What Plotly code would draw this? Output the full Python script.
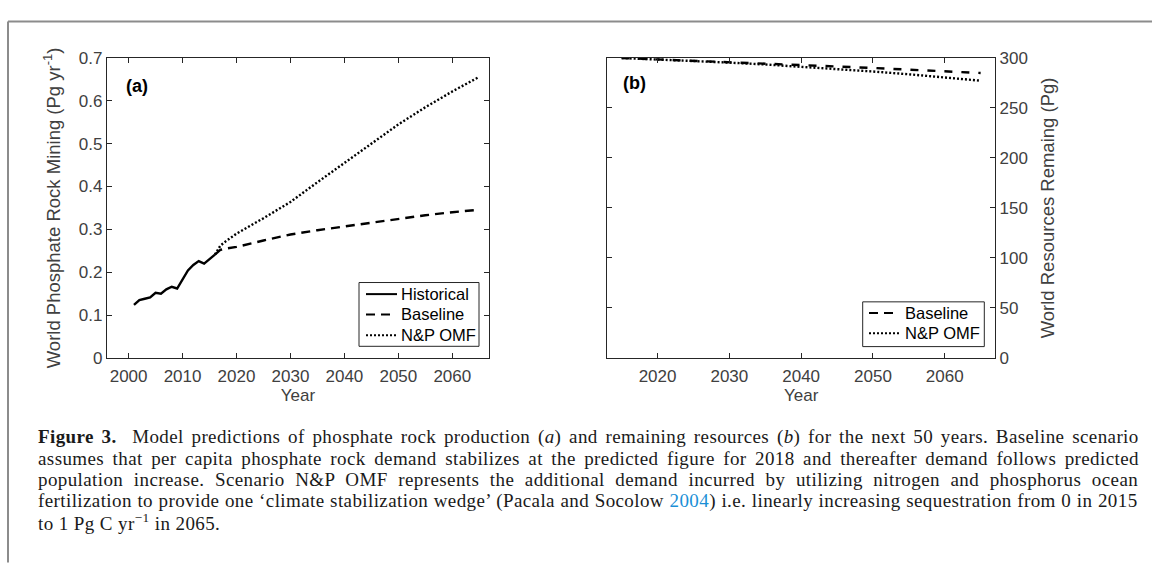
import plotly.graph_objects as go

# ---------------- data ----------------
hist_years = list(range(2001, 2017))
hist_vals = [0.124, 0.135, 0.138, 0.141, 0.152, 0.150, 0.160, 0.166,
             0.162, 0.184, 0.204, 0.217, 0.226, 0.220, 0.230, 0.241]

proj_years = [2016, 2017, 2018, 2020, 2025, 2030, 2035, 2040, 2045, 2050, 2055, 2060, 2065]
base_vals = [0.241, 0.252, 0.255, 0.259, 0.274, 0.288, 0.298, 0.307, 0.316, 0.325, 0.333, 0.340, 0.346]
omf_vals = [0.241, 0.262, 0.272, 0.290, 0.326, 0.364, 0.410, 0.455, 0.500, 0.545, 0.585, 0.622, 0.656]

res_years = [2015, 2020, 2025, 2030, 2035, 2040, 2045, 2050, 2055, 2060, 2065]
res_base = [300.0, 298.7, 297.4, 296.0, 294.5, 293.0, 291.5, 290.0, 288.3, 286.6, 285.0]
res_omf = [300.0, 298.6, 297.1, 295.4, 293.5, 291.4, 289.0, 286.5, 283.7, 280.7, 277.3]

xticks_a = [2000, 2010, 2020, 2030, 2040, 2050, 2060]
xticks_b = [2020, 2030, 2040, 2050, 2060]
yticks_a = [0, 0.1, 0.2, 0.3, 0.4, 0.5, 0.6, 0.7]
yticks_b = [0, 50, 100, 150, 200, 250, 300]

legend_a = ["Historical", "Baseline", "N&P OMF"]
legend_b = ["Baseline", "N&P OMF"]

caption_lines = [
    [("Figure 3.", "b"), ("  Model predictions of phosphate rock production (", "n"), ("a", "i"),
     (") and remaining resources (", "n"), ("b", "i"),
     (") for the next 50 years. Baseline scenario", "n")],
    [("assumes that per capita phosphate rock demand stabilizes at the predicted figure for 2018 and thereafter demand follows predicted", "n")],
    [("population increase. Scenario N&P OMF represents the additional demand incurred by utilizing nitrogen and phosphorus ocean", "n")],
    [("fertilization to provide one \u2018climate stabilization wedge\u2019 (Pacala and Socolow ", "n"),
     ("2004", "link"), (") i.e. linearly increasing sequestration from 0 in 2015", "n")],
    [("to 1 Pg C yr", "n"), ("\u22121", "sup"), (" in 2065.", "n")],
]

# ---------------- page geometry ----------------
FW, FH = 1152, 567


def px(x):
    return x / FW


def py(y):
    return 1 - y / FH


AX = "#262626"
TXT = "#404040"
FONT = "Liberation Sans"
LW = 2.4
DASH_A = "9px,6px"
DASH_B = "8px,9px"
DOT = "2px,2px"

fig = go.Figure()

fig.add_trace(go.Scatter(x=hist_years, y=hist_vals, mode="lines", name=legend_a[0],
                         line=dict(color="black", width=LW), xaxis="x", yaxis="y"))
fig.add_trace(go.Scatter(x=proj_years, y=base_vals, mode="lines", name=legend_a[1],
                         line=dict(color="black", width=LW, dash=DASH_A), xaxis="x", yaxis="y"))
fig.add_trace(go.Scatter(x=proj_years, y=omf_vals, mode="lines", name=legend_a[2],
                         line=dict(color="black", width=LW, dash=DOT), xaxis="x", yaxis="y"))
fig.add_trace(go.Scatter(x=res_years, y=res_base, mode="lines", name=legend_b[0],
                         line=dict(color="black", width=LW, dash=DASH_B), xaxis="x2", yaxis="y2"))
fig.add_trace(go.Scatter(x=res_years, y=res_omf, mode="lines", name=legend_b[1],
                         line=dict(color="black", width=LW, dash=DOT), xaxis="x2", yaxis="y2"))

ax_common = dict(showline=True, linecolor=AX, linewidth=1.2, mirror="ticks",
                 ticks="inside", ticklen=5, tickcolor=AX, tickwidth=1,
                 showgrid=False, zeroline=False,
                 tickfont=dict(family=FONT, size=17, color=TXT))

ydom = [py(361), py(50.7)]

fig.update_layout(
    width=FW, height=FH, autosize=False,
    margin=dict(l=0, r=0, t=0, b=0),
    paper_bgcolor="white", plot_bgcolor="white",
    font=dict(family=FONT, color=TXT),
    showlegend=False,
    xaxis=dict(domain=[px(107), px(489)], range=[1996, 2066.8], tickvals=xticks_a, anchor="y",
               ticklabelstandoff=3,
               title=dict(text="Year", font=dict(family=FONT, size=17, color=TXT), standoff=3),
               **ax_common),
    yaxis=dict(domain=ydom, range=[0, 0.7], tickvals=yticks_a, anchor="x",
               title=dict(text="World Phosphate Rock Mining (Pg yr<sup>-1</sup>)",
                          font=dict(family=FONT, size=18.5, color=TXT), standoff=13),
               **ax_common),
    xaxis2=dict(domain=[px(607.3), px(995)], range=[2013, 2067], tickvals=xticks_b, anchor="y2",
                ticklabelstandoff=3,
                title=dict(text="Year", font=dict(family=FONT, size=17, color=TXT), standoff=3),
                **ax_common),
    yaxis2=dict(domain=ydom, range=[0, 300], tickvals=yticks_b, anchor="x2", side="right",
                title=dict(text="World Resources Remaing (Pg)",
                           font=dict(family=FONT, size=18.5, color=TXT), standoff=14),
                **ax_common),
)

# panel labels
fig.add_annotation(text="<b>(a)</b>", xref="paper", yref="paper", x=px(124), y=py(80),
                   xanchor="left", yanchor="middle", showarrow=False,
                   font=dict(family=FONT, size=18, color="black"))
fig.add_annotation(text="<b>(b)</b>", xref="paper", yref="paper", x=px(621), y=py(77),
                   xanchor="left", yanchor="middle", showarrow=False,
                   font=dict(family=FONT, size=18, color="black"))


# ---------------- legends (boxes drawn like the MATLAB ones) ----------------
def legend_box(x0, y0, x1, y1, entries):
    fig.add_shape(type="rect", xref="paper", yref="paper", x0=px(x0), x1=px(x1),
                  y0=py(y1), y1=py(y0), line=dict(color=AX, width=1), fillcolor="white",
                  layer="above")
    for label, yy, sx0, sx1, dash, tx in entries:
        fig.add_shape(type="line", xref="paper", yref="paper", x0=px(sx0), x1=px(sx1),
                      y0=py(yy), y1=py(yy), line=dict(color="black", width=2, dash=dash),
                      layer="above")
        fig.add_annotation(text=label.replace("&", "&amp;"), xref="paper", yref="paper",
                           x=px(tx), y=py(yy), xanchor="left", yanchor="middle",
                           showarrow=False, font=dict(family=FONT, size=16.5, color="black"))


legend_box(359, 283, 479, 349, [
    (legend_a[0], 295, 366, 397, "solid", 399),
    (legend_a[1], 316, 366, 391, DASH_A, 399),
    (legend_a[2], 337.5, 366, 397, DOT, 399),
])
legend_box(862.7, 303, 984.3, 349.3, [
    (legend_b[0], 314.5, 869, 894, DASH_A, 903),
    (legend_b[1], 335.5, 869, 900, DOT, 903),
])

# ---------------- caption (justified with word spacing) ----------------
TIMES = {' ': 250, 'a': 444, 'b': 500, 'c': 444, 'd': 500, 'e': 444, 'f': 333, 'g': 500,
         'h': 500, 'i': 278, 'j': 278, 'k': 500, 'l': 278, 'm': 778, 'n': 500, 'o': 500,
         'p': 500, 'q': 500, 'r': 333, 's': 389, 't': 278, 'u': 500, 'v': 500, 'w': 722,
         'x': 500, 'y': 500, 'z': 444, 'A': 722, 'B': 667, 'C': 667, 'D': 722, 'E': 611,
         'F': 556, 'G': 722, 'H': 722, 'I': 333, 'J': 389, 'K': 722, 'L': 611, 'M': 889,
         'N': 722, 'O': 722, 'P': 556, 'Q': 722, 'R': 667, 'S': 556, 'T': 611, 'U': 722,
         'V': 722, 'W': 944, 'X': 722, 'Y': 722, 'Z': 611, '.': 250, ',': 250, '(': 333,
         ')': 333, '&': 778, '\u2018': 333, '\u2019': 333, '-': 333, '\u2212': 564}
TIMES_B = {'F': 611, 'i': 278, 'g': 500, 'u': 556, 'r': 444, 'e': 444, ' ': 250, '.': 250}

CAP_SIZE = 19
LS = 0.4
CAP_X0, CAP_X1 = 36, 1137
cap_y = [443, 465, 487, 509, 531]


def seg_width(text, style):
    w = 0
    for ch in text:
        if style == "b":
            w += TIMES_B.get(ch, 500)
        elif style == "i":
            w += 500 if ch.isalpha() else TIMES.get(ch, 500)
        else:
            w += TIMES.get(ch, 500)
    scale = 0.7 if style == "sup" else 1.0
    return w / 1000 * CAP_SIZE * scale


def seg_html(text, style):
    t = text.replace("&", "&amp;")
    if style == "b":
        return "<b>" + t + "</b>"
    if style == "i":
        return "<i>" + t + "</i>"
    if style == "sup":
        return "<sup>" + t + "</sup>"
    if style == "link":
        return "<span style='fill:#1a8fd6'>" + t + "</span>"
    return t


for i, (segs, yy) in enumerate(zip(caption_lines, cap_y)):
    natural = sum(seg_width(t, s) for t, s in segs)
    nchar = sum(len(t) for t, s in segs)
    nspace = sum(t.count(" ") for t, s in segs)
    natural += LS * nchar
    last = i == len(caption_lines) - 1
    ws = 0 if last else max(0.0, (CAP_X1 - CAP_X0 - natural) / max(nspace, 1))
    body = "".join(seg_html(t, s) for t, s in segs)
    html = "<span style='word-spacing:%.2fpx;letter-spacing:%.2fpx'>%s</span>" % (ws, LS, body)
    fig.add_annotation(text=html, xref="paper", yref="paper", x=px(CAP_X0), y=py(yy),
                       xanchor="left", yanchor="middle", showarrow=False, align="left",
                       font=dict(family="Liberation Serif", size=CAP_SIZE, color="#1a1a1a"))

# ---------------- outer frame ----------------
fig.add_shape(type="line", xref="paper", yref="paper", x0=px(8), x1=1.01, y0=py(13),
              y1=py(13), line=dict(color="#8c8c8c", width=2))
fig.add_shape(type="line", xref="paper", yref="paper", x0=px(8), x1=px(8), y0=-0.01,
              y1=py(13), line=dict(color="#8c8c8c", width=2))

fig.write_html("out.html", config={"displayModeBar": False},
               post_script="document.body.style.margin='0';document.body.style.overflow='hidden';")
